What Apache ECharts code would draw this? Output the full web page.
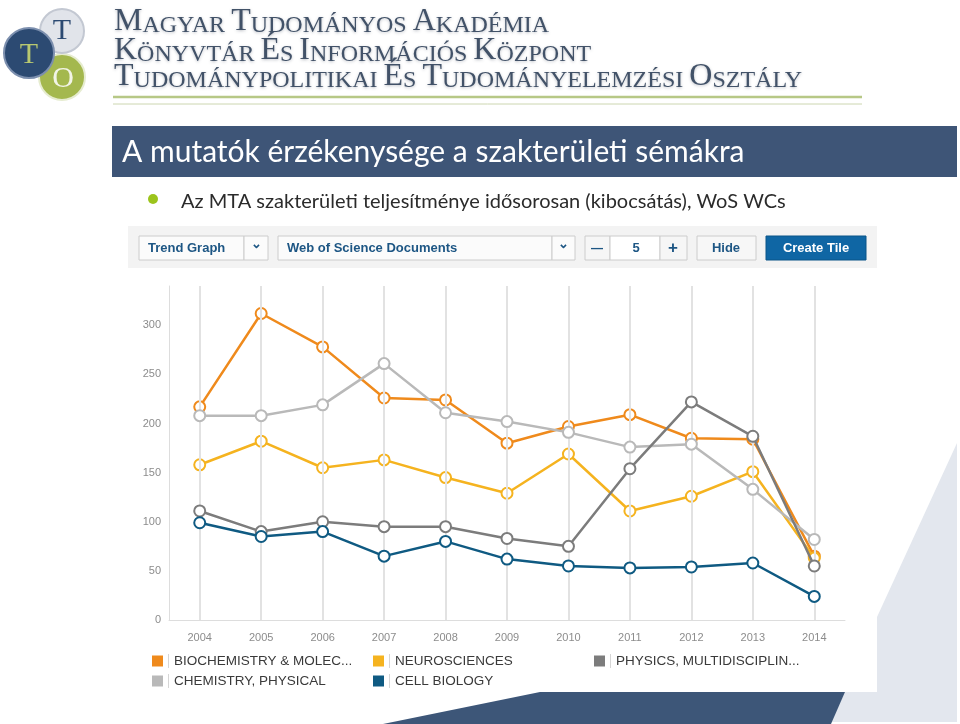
<!DOCTYPE html>
<html>
<head>
<meta charset="utf-8">
<script src="https://cdn.jsdelivr.net/npm/echarts@6/dist/echarts.min.js"></script>
<style>
html,body{margin:0;padding:0;background:#fff;}
#chart{width:960px;height:724px;}
</style>
</head>
<body>
<div id="chart"></div>
<script>
// ---- data ----
const years = ['2004','2005','2006','2007','2008','2009','2010','2011','2012','2013','2014'];
const seriesNames = ['BIOCHEMISTRY & MOLECULAR BIOLOGY','NEUROSCIENCES','PHYSICS, MULTIDISCIPLINARY','CHEMISTRY, PHYSICAL','CELL BIOLOGY'];
const legendLabels = ['BIOCHEMISTRY & MOLEC...','NEUROSCIENCES','PHYSICS, MULTIDISCIPLIN...','CHEMISTRY, PHYSICAL','CELL BIOLOGY'];
const biochemistry = [217, 312, 278, 226, 224, 180, 197, 209, 185, 184, 65];
const neurosciences = [158, 182, 155, 163, 145, 129, 169, 111, 126, 151, 63];
const physicsMulti = [111, 90, 100, 95, 95, 83, 75, 154, 222, 187, 55];
const chemistryPhys = [208, 208, 219, 261, 211, 202, 191, 176, 179, 133, 82];
const cellBiology = [99, 85, 90, 65, 80, 62, 55, 53, 54, 58, 24];
const yTickLabels = [0, 50, 100, 150, 200, 250, 300];

const headerLines = ['MAGYAR TUDOMÁNYOS AKADÉMIA','KÖNYVTÁR ÉS INFORMÁCIÓS KÖZPONT','TUDOMÁNYPOLITIKAI ÉS TUDOMÁNYELEMZÉSI OSZTÁLY'];
const titleText = 'A mutatók érzékenysége a szakterületi sémákra';
const subtitleText = 'Az MTA szakterületi teljesítménye idősorosan (kibocsátás), WoS WCs';

const colors = ['#ef8a1c','#f5b31f','#7c7c7c','#b9b9b9','#0f5a82'];

// ---- build ----
const chart = echarts.init(document.getElementById('chart'), null, {renderer:'canvas'});

function smallCaps(line){
  return line.split(' ').map(w => '{b|' + w[0] + '}{s|' + w.slice(1) + '}').join('{s| }');
}
const serif = "'Liberation Serif','DejaVu Serif',serif";
const richHeader = {
  b:{fontSize:32, fontFamily:serif, fill:'#425268', verticalAlign:'bottom'},
  s:{fontSize:24, fontFamily:serif, fill:'#425268', verticalAlign:'bottom'}
};
const toolFont = "bold 13px 'Liberation Sans',Arial,sans-serif";
const uiFont = "Lato,'Open Sans',sans-serif";

function box(x,y,w,h,fill,stroke){
  return {type:'rect', shape:{x:x,y:y,width:w,height:h}, style:{fill:fill, stroke:stroke||'#cccccc', lineWidth:1}, silent:true, z:-5};
}
function txt(t,x,y,font,fill,align){
  return {type:'text', style:{text:t, x:x, y:y, font:font, fill:fill, align:align||'left', verticalAlign:'middle'}, silent:true, z:-4};
}
function headerText(i, y){
  return {type:'text', style:{text:smallCaps(headerLines[i]), x:114, y:y, rich:richHeader, verticalAlign:'bottom',
    textShadowColor:'rgba(60,70,90,0.35)', textShadowBlur:3, textShadowOffsetY:1}, silent:true};
}

const graphics = [
  // decorative background shapes
  {type:'polygon', shape:{points:[[957,443],[957,722],[831,722],[845,692],[877,692],[877,617]]}, style:{fill:'#e3e7ee'}, silent:true, z:-10},
  {type:'polygon', shape:{points:[[383,724],[540,692],[845,692],[831,724]]}, style:{fill:'#3d5678'}, silent:true, z:-10},
  // logo
  {type:'circle', shape:{cx:62, cy:77, r:23}, style:{fill:'#a4b84e', stroke:'#e6ecd0', lineWidth:2}, silent:true, z:-6},
  {type:'circle', shape:{cx:62, cy:31, r:22}, style:{fill:'#e1e4ea', stroke:'#c3c8d2', lineWidth:2}, silent:true, z:-6},
  {type:'circle', shape:{cx:29, cy:53, r:25}, style:{fill:'#2c4a72', stroke:'#7c8fae', lineWidth:2}, silent:true, z:-6},
  {type:'text', style:{text:'T', x:29, y:55, font:"30px "+serif, fill:'#b8c870', align:'center', verticalAlign:'middle'}, silent:true, z:-5},
  {type:'text', style:{text:'T', x:62, y:31, font:"30px "+serif, fill:'#2c4a72', align:'center', verticalAlign:'middle'}, silent:true, z:-5},
  {type:'text', style:{text:'O', x:63, y:79, font:"30px "+serif, fill:'#f2f4e6', align:'center', verticalAlign:'middle'}, silent:true, z:-5},
  // header text
  headerText(0, 38), headerText(1, 67), headerText(2, 93),
  {type:'line', shape:{x1:113,y1:97,x2:862,y2:97}, style:{stroke:'#b7c886', lineWidth:2.5}, silent:true},
  {type:'line', shape:{x1:113,y1:104,x2:862,y2:104}, style:{stroke:'#ccd6b0', lineWidth:1}, silent:true},
  // title bar
  {type:'rect', shape:{x:112,y:126,width:845,height:51}, style:{fill:'#3e5577'}, silent:true, z:-6},
  {type:'text', style:{text:titleText, x:122, y:152, font:"30px "+uiFont, fill:'#ffffff', verticalAlign:'middle'}, silent:true},
  {type:'circle', shape:{cx:153, cy:199, r:5}, style:{fill:'#9cc41c'}, silent:true},
  {type:'text', style:{text:subtitleText, x:181, y:202, font:"20px "+uiFont, fill:'#2b2b2b', verticalAlign:'middle'}, silent:true},
  // toolbar
  {type:'rect', shape:{x:128,y:226,width:749,height:42}, style:{fill:'#f3f3f3'}, silent:true, z:-7},
  box(139,236,105,24,'#fbfbfb'), box(244,236,24,24,'#fbfbfb'),
  txt('Trend Graph',148,248,toolFont,'#1d5684'), txt('⌄',256,244,'bold 13px sans-serif','#1d5684','center'),
  box(278,236,274,24,'#fbfbfb'), box(552,236,23,24,'#fbfbfb'),
  txt('Web of Science Documents',287,248,toolFont,'#1d5684'), txt('⌄',563,244,'bold 13px sans-serif','#1d5684','center'),
  box(585,236,25,24,'#f6f6f6'), box(610,236,50,24,'#ffffff'), box(660,236,27,24,'#f6f6f6'),
  txt('—',597,249,'bold 12px sans-serif','#1d5684','center'), txt('5',636,248,toolFont,'#1d5684','center'), txt('+',673,248,'bold 17px sans-serif','#1d5684','center'),
  box(697,236,59,24,'#f7f7f7'), txt('Hide',726,248,toolFont,'#1d5684','center'),
  box(766,236,100,24,'#0f66a4','#0b5488'), txt('Create Tile',816,248,toolFont,'#ffffff','center')
];

const legendRich = {
  s:{width:1, height:14, backgroundColor:'#d6d6d6'},
  t:{fontSize:13.5, color:'#3a3a3a', fontFamily:"'Liberation Sans',Arial,sans-serif", padding:[0,0,0,5]}
};
function legendFormatter(name){
  const i = seriesNames.indexOf(name);
  return '{s|}{t|' + legendLabels[i] + '}';
}
function legendBlock(idx, left){
  return {
    orient:'vertical', left:left, top:654, padding:0, itemGap:6, itemWidth:11, itemHeight:11,
    selectedMode:false, icon:'rect', formatter:legendFormatter,
    textStyle:{rich:legendRich},
    data: idx.map(i => ({name:seriesNames[i], icon:'rect', itemStyle:{color:colors[i], borderWidth:0}}))
  };
}

const values = [biochemistry, neurosciences, physicsMulti, chemistryPhys, cellBiology];
const drawOrder = [0,1,3,2,4];
const lineSeries = drawOrder.map(i => ({
  name: seriesNames[i], type:'line', data: values[i],
  symbol:'emptyCircle', symbolSize:11, showSymbol:true,
  lineStyle:{color:colors[i], width:2.5},
  itemStyle:{color:colors[i], borderColor:colors[i], borderWidth:2.5},
  z: 3 + drawOrder.indexOf(i), animation:false
}));

const option = {
  animation:false,
  backgroundColor:'#ffffff',
  graphic: graphics,
  grid:{left:169, right:115, top:286, bottom:104, containLabel:false},
  legend:[legendBlock([0,3],152), legendBlock([1,4],373), legendBlock([2],594)],
  xAxis:{
    type:'category', data:years, boundaryGap:true,
    axisLine:{show:true, lineStyle:{color:'#dddddd', width:1}},
    axisTick:{show:false},
    axisLabel:{color:'#8c8c8c', fontSize:11, margin:12, fontFamily:"'Liberation Sans',Arial,sans-serif"},
    splitLine:{show:false}
  },
  yAxis:{
    type:'value', min:0, max:340, interval:50,
    axisLine:{show:true, lineStyle:{color:'#dddddd', width:1}},
    axisTick:{show:false},
    splitLine:{show:false},
    axisLabel:{color:'#8c8c8c', fontSize:11, margin:8, fontFamily:"'Liberation Sans',Arial,sans-serif",
      formatter: v => (yTickLabels.indexOf(v) >= 0 ? String(v) : '')}
  },
  series:[{
    name:'grid', type:'line', data:[], z:1, silent:true,
    markLine:{silent:true, symbol:['none','none'], label:{show:false}, animation:false,
      lineStyle:{color:'#e2e2e2', width:2, type:'solid'},
      data: years.map(y => ({xAxis:y}))}
  }].concat(lineSeries)
};
chart.setOption(option);
</script>
</body>
</html>
